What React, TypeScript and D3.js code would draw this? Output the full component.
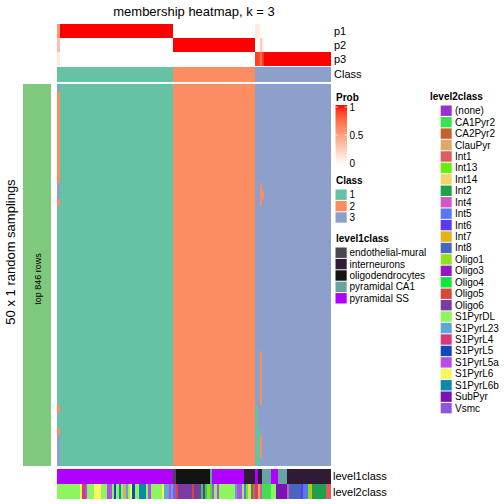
import React from "react";
import * as d3 from "d3";

// ---------------- data ----------------
const classNames = ["1", "2", "3"];
const classColors = ["#66C2A5", "#FC8D62", "#8DA0CB"];
const classCounts = [51, 36, 33]; // samples per consensus class (ordered)
const nRows = 50; // 50 x 1 random samplings

// membership probability overrides: [column, p1, p2, p3]
const probOverrides: [number, number, number, number][] = [
  [0, 0.55, 0.33, 0.12],
  [87, 0.1, 0.0, 0.9],
  [88, 0.1, 0.02, 0.88],
  [89, 0.0, 0.28, 0.72],
  [90, 0.0, 0.08, 0.92],
];

// deviations in sampling heatmap: [column, rowStart, rowEnd, class(1-based)]
const deviations: [number, number, number, number][] = [
  [0, 0, 0, 3],
  [0, 1, 12, 2],
  [0, 13, 14, 3],
  [0, 15, 15, 2],
  [0, 42, 42, 2],
  [0, 45, 45, 2],
  [0, 46, 49, 3],
  [87, 42, 49, 1],
  [88, 45, 49, 1],
  [89, 13, 15, 2],
  [89, 35, 41, 2],
  [89, 46, 48, 2],
  [90, 14, 14, 2],
];

const level1Names = ["endothelial-mural", "interneurons", "oligodendrocytes", "pyramidal CA1", "pyramidal SS"];
const level1Colors = ["#4B4650", "#2F1B35", "#131313", "#66A6A2", "#B000FF"];
const level1Runs: [string, number][] = [
  ["pyramidal SS", 51],
  ["endothelial-mural", 1],
  ["oligodendrocytes", 15],
  ["pyramidal CA1", 1],
  ["pyramidal SS", 14],
  ["interneurons", 5],
  ["pyramidal SS", 1],
  ["interneurons", 2],
  ["pyramidal CA1", 4],
  ["pyramidal SS", 3],
  ["pyramidal CA1", 4],
  ["interneurons", 19],
];

const level2Names = [
  "(none)", "CA1Pyr2", "CA2Pyr2", "ClauPyr", "Int1", "Int13", "Int14", "Int2", "Int4", "Int5",
  "Int6", "Int7", "Int8", "Oligo1", "Oligo3", "Oligo4", "Oligo5", "Oligo6", "S1PyrDL", "S1PyrL23",
  "S1PyrL4", "S1PyrL5", "S1PyrL5a", "S1PyrL6", "S1PyrL6b", "SubPyr", "Vsmc",
];
const level2Colors = [
  "#9B2FCF", "#3CE150", "#C5612A", "#E0A868", "#E05A5E", "#66EE11", "#EDD66A", "#1FA04C", "#D655C8", "#5877F5",
  "#5B3AF5", "#E3B214", "#4766BE", "#8DE21C", "#9218C6", "#12E63A", "#D8473E", "#7B3BA3", "#8EF55E", "#5EA6D6",
  "#D7397A", "#1048C0", "#B44DE8", "#F8F65E", "#0B8AAA", "#7B14B4", "#8E55E0",
];
const level2Runs: [string, number][] = [
  ["S1PyrDL", 10], ["S1PyrL6", 1], ["S1PyrL4", 1], ["S1PyrL5a", 1], ["S1PyrDL", 3], ["S1PyrL6", 3],
  ["S1PyrDL", 3], ["S1PyrL5a", 2], ["S1PyrDL", 1], ["S1PyrL5", 1], ["S1PyrDL", 1], ["S1PyrL6b", 1],
  ["S1PyrDL", 1], ["ClauPyr", 1], ["S1PyrL23", 1], ["S1PyrDL", 1], ["S1PyrL6", 1], ["S1PyrL5", 1],
  ["S1PyrDL", 2], ["S1PyrL6b", 3], ["S1PyrDL", 1], ["S1PyrL5a", 1], ["S1PyrDL", 5], ["S1PyrL6", 1],
  ["S1PyrL23", 2], ["S1PyrL5a", 1], ["S1PyrL23", 1],
  ["Vsmc", 1], ["Oligo5", 1], ["Oligo6", 6], ["Oligo5", 1], ["Oligo6", 3], ["Oligo4", 1], ["Oligo3", 1],
  ["Oligo4", 1], ["Oligo1", 1], ["CA1Pyr2", 1], ["S1PyrL5a", 1], ["S1PyrDL", 1], ["S1PyrL5a", 1],
  ["S1PyrDL", 7], ["S1PyrL23", 1], ["S1PyrL5a", 2], ["S1PyrDL", 1],
  ["Int5", 1], ["Int13", 1], ["Int14", 1], ["Int2", 1], ["Int1", 1], ["S1PyrL4", 1], ["Int7", 1], ["Int4", 1],
  ["CA1Pyr2", 4], ["S1PyrDL", 2], ["SubPyr", 5], ["Int4", 1], ["Int8", 5], ["Int6", 1], ["Int5", 2],
  ["Int13", 1], ["Int7", 1], ["Int2", 6], ["Int1", 2],
];

const probTicks = [0, 0.5, 1];
const probRowNames = ["p1", "p2", "p3"];

// ---------------- helpers ----------------
function expandRuns(runs: [string, number][]): string[] {
  const out: string[] = [];
  runs.forEach(([k, n]) => { for (let i = 0; i < n; i++) out.push(k); });
  return out;
}

export default function App() {
  const sampleClass: number[] = [];
  classCounts.forEach((n, c) => { for (let i = 0; i < n; i++) sampleClass.push(c + 1); });
  const N = sampleClass.length;
  const cols = d3.range(N);

  const probs = cols.map((i) => classNames.map((_, k) => (sampleClass[i] === k + 1 ? 1 : 0)));
  probOverrides.forEach(([c, a, b, d]) => { probs[c] = [a, b, d]; });

  const x = d3.scaleBand<number>().domain(cols).range([57.3, 330.3]).padding(0);
  const yRows = d3.scaleBand<number>().domain(d3.range(nRows)).range([84, 466]).padding(0);
  const yProb = d3.scaleBand<string>().domain(probRowNames).range([24, 66]).padding(0);
  const probColor = d3.scaleLinear<string>().domain([0, 1]).range(["#FFFFFF", "#FF0000"]).interpolate(d3.interpolateLab);
  const classColor = d3.scaleOrdinal<number, string>().domain([1, 2, 3]).range(classColors);
  const l1Color = d3.scaleOrdinal<string, string>().domain(level1Names).range(level1Colors);
  const l2Color = d3.scaleOrdinal<string, string>().domain(level2Names).range(level2Colors);
  const level1 = expandRuns(level1Runs);
  const level2 = expandRuns(level2Runs);
  const bw = x.bandwidth();

  const font = "'Liberation Sans', Arial, Helvetica, sans-serif";

  // legend scale for Prob
  const legY = d3.scaleLinear().domain([0, 1]).range([163, 107]);

  const classRow = { y0: 66.8, y1: 81.7 };
  const l1Row = { y0: 469, y1: 483.7 };
  const l2Row = { y0: 484.4, y1: 499.2 };

  return (
    <div style={{ position: "fixed", left: 0, top: 0 }}>
      <svg width={504} height={504} style={{ display: "block", background: "#fff" }} fontFamily={font}>
        <defs>
          <linearGradient id="probGrad" x1="0" y1="0" x2="0" y2="1">
            {d3.range(0, 1.0001, 0.1).map((t) => (
              <stop key={t} offset={`${t * 100}%`} stopColor={probColor(1 - t)} />
            ))}
          </linearGradient>
        </defs>

        {/* title */}
        <text x={194} y={16} fontSize={13} textAnchor="middle">membership heatmap, k = 3</text>

        {/* probability rows */}
        <g shapeRendering="crispEdges">
          {probRowNames.map((r, k) =>
            cols.map((i) => (
              <rect key={r + i} x={x(i)} y={yProb(r)} width={bw + 0.4} height={yProb.bandwidth()} fill={probColor(probs[i][k])} />
            ))
          )}
          {cols.map((i) => (
            <rect key={"c" + i} x={x(i)} y={classRow.y0} width={bw + 0.4} height={classRow.y1 - classRow.y0} fill={classColor(sampleClass[i])} />
          ))}
        </g>
        {probRowNames.map((r) => (
          <text key={r} x={334} y={(yProb(r) as number) + yProb.bandwidth() / 2} fontSize={11} dominantBaseline="central">{r}</text>
        ))}
        <text x={334} y={(classRow.y0 + classRow.y1) / 2} fontSize={11} dominantBaseline="central">Class</text>

        {/* left annotation */}
        <rect x={23} y={84} width={28} height={382} fill="#7FC97F" />
        <text transform="translate(40.5,279) rotate(-90)" fontSize={9} textAnchor="middle">top 846 rows</text>
        <text transform="translate(15,252) rotate(-90)" fontSize={13} textAnchor="middle">50 x 1 random samplings</text>

        {/* main sampling heatmap */}
        <g shapeRendering="crispEdges">
          {cols.map((i) => (
            <rect key={"m" + i} x={x(i)} y={84} width={bw + 0.4} height={382} fill={classColor(sampleClass[i])} />
          ))}
          {deviations.map(([c, r0, r1, k], j) => (
            <rect key={"d" + j} x={x(c)} y={yRows(r0)} width={bw} height={(yRows(r1) as number) + yRows.bandwidth() - (yRows(r0) as number)} fill={classColor(k)} />
          ))}
        </g>

        {/* bottom annotations */}
        <g shapeRendering="crispEdges">
          {cols.map((i) => (
            <rect key={"l1" + i} x={x(i)} y={l1Row.y0} width={bw + 0.4} height={l1Row.y1 - l1Row.y0} fill={l1Color(level1[i])} />
          ))}
          {cols.map((i) => (
            <rect key={"l2" + i} x={x(i)} y={l2Row.y0} width={bw + 0.4} height={l2Row.y1 - l2Row.y0} fill={l2Color(level2[i])} />
          ))}
        </g>
        <text x={333} y={(l1Row.y0 + l1Row.y1) / 2} fontSize={11} dominantBaseline="central">level1class</text>
        <text x={333} y={(l2Row.y0 + l2Row.y1) / 2} fontSize={11} dominantBaseline="central">level2class</text>

        {/* Prob legend */}
        <text x={336} y={101} fontSize={10} fontWeight="bold">Prob</text>
        <rect x={335.5} y={105} width={11.5} height={60} fill="url(#probGrad)" />
        {probTicks.map((t) => (
          <g key={t}>
            <line x1={335.5} x2={338} y1={legY(t)} y2={legY(t)} stroke="#fff" strokeWidth={0.7} />
            <line x1={344.5} x2={347} y1={legY(t)} y2={legY(t)} stroke="#fff" strokeWidth={0.7} />
            <text x={349.5} y={legY(t)} fontSize={10} dominantBaseline="central">{t}</text>
          </g>
        ))}

        {/* Class legend */}
        <text x={336} y={184} fontSize={10} fontWeight="bold">Class</text>
        {classNames.map((c, k) => (
          <g key={c}>
            <rect x={335.5} y={189.5 + k * 11.4} width={11.2} height={10.4} fill={classColors[k]} />
            <text x={349.5} y={194.7 + k * 11.4} fontSize={10} dominantBaseline="central">{c}</text>
          </g>
        ))}

        {/* level1 legend */}
        <text x={336} y={242} fontSize={10} fontWeight="bold">level1class</text>
        {level1Names.map((c, k) => (
          <g key={c}>
            <rect x={335.5} y={247.5 + k * 11.4} width={11.2} height={10.4} fill={l1Color(c)} />
            <text x={349.5} y={252.7 + k * 11.4} fontSize={10} dominantBaseline="central">{c}</text>
          </g>
        ))}

        {/* level2 legend */}
        <text x={430} y={100} fontSize={10} fontWeight="bold">level2class</text>
        {level2Names.map((c, k) => (
          <g key={c}>
            <rect x={440.7} y={105.5 + k * 11.44} width={11} height={10.4} fill={l2Color(c)} />
            <text x={455} y={110.7 + k * 11.44} fontSize={10} dominantBaseline="central">{c}</text>
          </g>
        ))}
      </svg>
    </div>
  );
}
